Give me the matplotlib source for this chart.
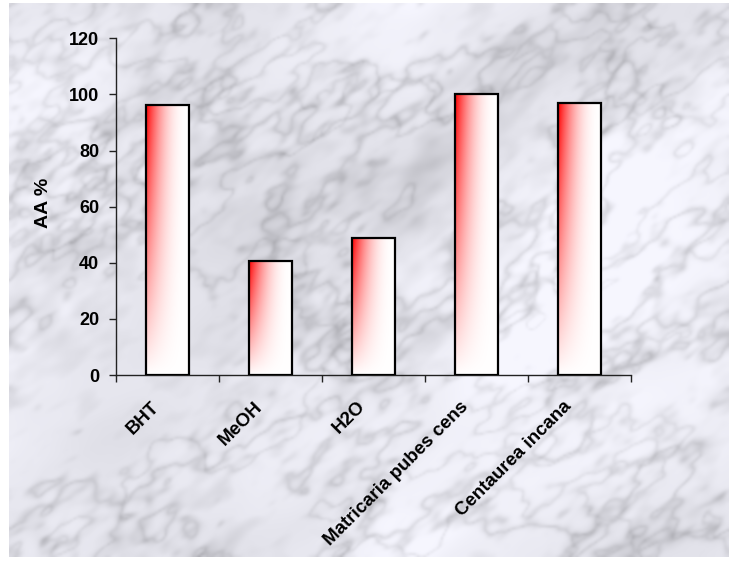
import numpy as np
import matplotlib
matplotlib.use("Agg")
import matplotlib.pyplot as plt
from matplotlib.transforms import ScaledTranslation

plt.rcParams['font.family'] = ['Liberation Sans', 'DejaVu Sans']
plt.rcParams['font.weight'] = 'bold'

# data
categories = ['BHT', 'MeOH', 'H2O', 'Matricaria pubes cens', 'Centaurea incana']
aa_percent = [96.3, 40.7, 48.9, 100.0, 96.9]
yticks = [0, 20, 40, 60, 80, 100, 120]

W, H = 731, 563
fig = plt.figure(figsize=(W / 100, H / 100), dpi=100, facecolor='white')

# ---- marble background (decorative texture, fixed seed) ----
rng = np.random.default_rng(5)
h, w = H // 2, W // 2
fy = np.fft.fftfreq(h)[:, None]
fx = np.fft.fftfreq(w)[None, :]
# slightly stretched along the diagonal
ca, sa = np.cos(0.6), np.sin(0.6)
freq = np.sqrt(((fx * ca - fy * sa) * 1.4) ** 2 + ((fx * sa + fy * ca) / 1.4) ** 2)
freq[0, 0] = 1.0


def fbm(beta, cut=0.15):
    spec = np.fft.fft2(rng.standard_normal((h, w))) / freq ** beta
    spec *= np.exp(-(freq / cut) ** 2)
    spec[0, 0] = 0
    r = np.real(np.fft.ifft2(spec))
    return (r - r.mean()) / r.std()


# ridged noise gives a fuzzy vein network
ridge1 = (1 - np.clip(np.abs(fbm(1.35)), 0, 1)) ** 4
ridge2 = (1 - np.clip(np.abs(fbm(1.25)), 0, 1)) ** 5
cloud = fbm(2.2)
mottle = fbm(1.0, cut=0.12)
gray = (0.935 - 0.12 * ridge1 - 0.09 * ridge2 - 0.03 * cloud
        - 0.03 * np.clip(mottle, 0, None))
gray = np.clip(gray, 0.6, 0.975)
marble = np.dstack([gray * 0.99, gray * 0.99, np.clip(gray * 1.025, 0, 1)])

bg = fig.add_axes([9 / W, 6 / H, 1 - 11 / W, 1 - 9 / H], zorder=-5)
bg.imshow(marble, aspect='auto', interpolation='bicubic')
bg.axis('off')

# ---- chart ----
ax = fig.add_axes([116 / W, 1 - 375 / H, 515 / W, 336.7 / H])
ax.set_facecolor('none')

x = np.arange(len(categories))
bar_w = 0.41
bars = ax.bar(x, aa_percent, width=bar_w, facecolor='none',
              edgecolor='black', linewidth=1.6, zorder=3)

# corner gradient: red at top-left fading to white
u = np.linspace(0, 1, 80)[None, :]
v = np.linspace(0, 1, 120)[:, None]
t = (1 - u) ** 2.3 * (1 - v) ** 0.9
grad = np.dstack([np.ones_like(t), 1 - t, 1 - t])
for xi, val, patch in zip(x, aa_percent, bars):
    im = ax.imshow(grad, extent=(xi - bar_w / 2, xi + bar_w / 2, 0, val),
                   origin='upper', aspect='auto', zorder=2,
                   interpolation='bilinear')
    im.set_clip_path(patch)

ax.set_xlim(-0.5, len(categories) - 0.5)
ax.set_ylim(0, 120)
ax.set_yticks(yticks)
ax.set_xticks(np.arange(len(categories) + 1) - 0.5)
ax.set_xticklabels([])
ax.set_xticks(x, minor=True)
ax.set_xticklabels(categories, minor=True, rotation=45, ha='right',
                   va='center', rotation_mode='anchor', fontsize=13.5,
                   fontweight='bold')
ax.tick_params(axis='x', which='minor', length=0, pad=21)
ax.tick_params(axis='x', which='major', length=5, width=1, color='#222222')
ax.tick_params(axis='y', length=5, width=1, color='#222222', pad=7,
               labelsize=13)
for lab in ax.get_yticklabels():
    lab.set_fontweight('bold')
for lab in ax.get_xticklabels(minor=True):
    lab.set_transform(lab.get_transform() +
                      ScaledTranslation(-0.11, 0, fig.dpi_scale_trans))

for s in ['top', 'right']:
    ax.spines[s].set_visible(False)
for s in ['left', 'bottom']:
    ax.spines[s].set_color('#222222')
    ax.spines[s].set_linewidth(1)

ax.set_ylabel('AA %', fontsize=14, fontweight='bold')
ax.yaxis.set_label_coords(-0.124, 0.51)

fig.savefig('out.png', dpi=100)
